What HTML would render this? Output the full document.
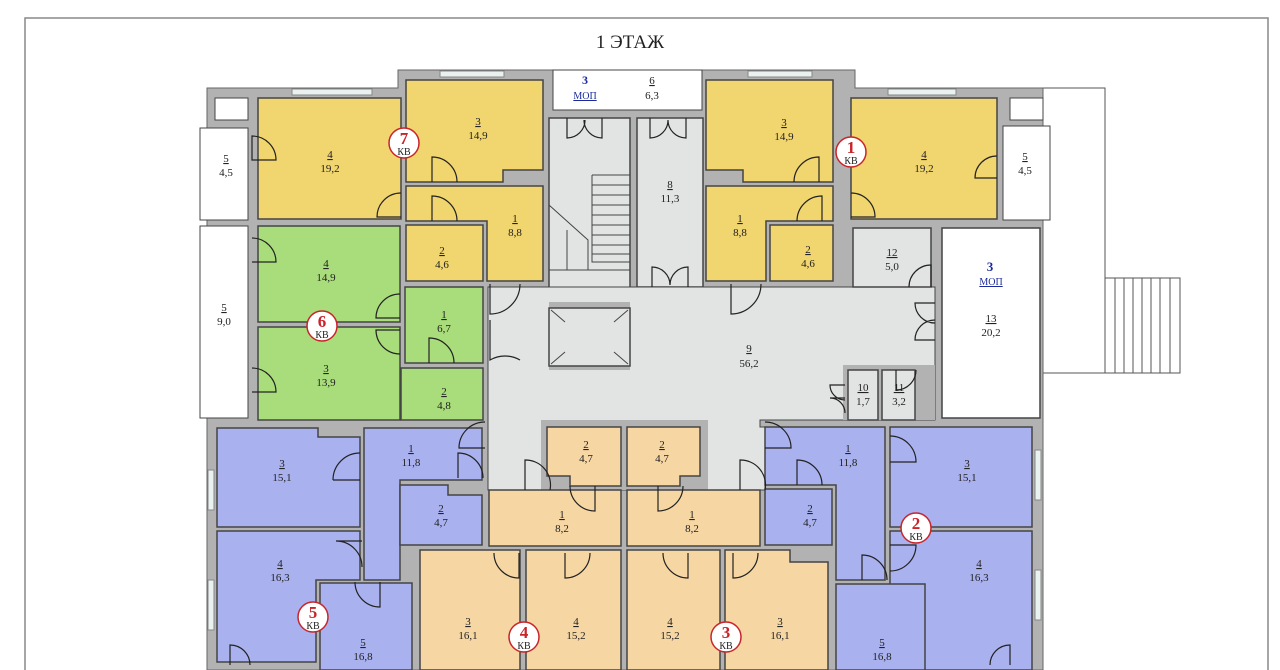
<!DOCTYPE html>
<html><head><meta charset="utf-8"><style>
body{margin:0;background:#fff;}
svg{display:block}
text{font-family:"Liberation Serif",serif;font-size:11px;fill:#222;text-anchor:middle}
.r{stroke:#444;stroke-width:1.5}
.y{fill:#f1d56e}.g{fill:#a9dc7a}.b{fill:#a9b1ee}.p{fill:#f6d7a3}.gr{fill:#e2e3e3}.w{fill:#fff}
.d{fill:none;stroke:#222;stroke-width:1.2}
.kn{font-size:17px;font-weight:bold;fill:#c8242a}
.kv{font-size:10px}
</style></head><body>
<svg width="1280" height="670" viewBox="0 0 1280 670">
<rect x="25" y="18" width="1243" height="670" fill="#fff" stroke="#888" stroke-width="1.5"/>
<text x="630" y="48" style="font-size:19px">1 ЭТАЖ</text>
<!-- outside stair -->
<rect x="1043" y="88" width="62" height="285" fill="#fff" stroke="#555"/>
<rect x="1105" y="278" width="75" height="95" fill="#fff" stroke="#555"/>
<g stroke="#555"><line x1="1115" y1="278" x2="1115" y2="373"/><line x1="1124" y1="278" x2="1124" y2="373"/><line x1="1133" y1="278" x2="1133" y2="373"/><line x1="1142" y1="278" x2="1142" y2="373"/><line x1="1151" y1="278" x2="1151" y2="373"/><line x1="1160" y1="278" x2="1160" y2="373"/><line x1="1170" y1="278" x2="1170" y2="373"/></g>
<!-- walls -->
<polygon points="207,88 398,88 398,70 855,70 855,88 1043,88 1043,670 207,670" fill="#b2b2b2" stroke="#666"/>
<rect x="215" y="98" width="33" height="22" fill="#fff" stroke="#444"/>
<rect x="1010" y="98" width="33" height="22" fill="#fff" stroke="#444"/>
<!-- balconies -->
<polygon points="200,128 248,128 248,220 200,220" fill="#fff" stroke="#444"/>
<polygon points="200,226 248,226 248,418 200,418" fill="#fff" stroke="#444"/>
<polygon points="1003,126 1050,126 1050,220 1003,220" fill="#fff" stroke="#444"/>
<!-- Apt 7 -->
<rect class="r y" x="258" y="98" width="143" height="121"/>
<polygon class="r y" points="406,80 543,80 543,170 503,170 503,182 406,182"/>
<polygon class="r y" points="406,186 543,186 543,281 487,281 487,221 406,221"/>
<polygon class="r y" points="406,225 483,225 483,281 406,281"/>
<!-- stairs / lift -->
<rect class="r gr" x="549" y="118" width="81" height="184"/>
<g stroke="#444" fill="none"><polyline points="592,175 630,175"/><polyline points="592,175 592,262 630,262"/><line x1="592" y1="185" x2="630" y2="185"/><line x1="592" y1="195" x2="630" y2="195"/><line x1="592" y1="205" x2="630" y2="205"/><line x1="592" y1="215" x2="630" y2="215"/><line x1="592" y1="225" x2="630" y2="225"/><line x1="592" y1="235" x2="630" y2="235"/><line x1="592" y1="245" x2="630" y2="245"/><line x1="592" y1="254" x2="630" y2="254"/><polyline points="549,205 588,240 588,270 567,270 567,230"/><line x1="549" y1="270" x2="630" y2="270"/></g>
<rect class="r gr" x="549" y="308" width="81" height="58"/>
<g stroke="#444"><line x1="551" y1="310" x2="565" y2="322"/><line x1="628" y1="310" x2="614" y2="322"/><line x1="551" y1="364" x2="565" y2="352"/><line x1="628" y1="364" x2="614" y2="352"/></g>
<rect class="w" x="553" y="70" width="149" height="40" stroke="#444"/>
<text x="585" y="84" style="fill:#1a2a9c;font-weight:bold;font-size:12px">3</text>
<text x="585" y="99" style="fill:#1a2a9c;font-size:10px;text-decoration:underline">МОП</text>
<text x="652" y="84" style="text-decoration:underline">6</text><text x="652" y="99">6,3</text>
<rect class="r gr" x="637" y="118" width="66" height="169"/>
<!-- hall -->
<polygon class="gr" points="488,287 935,287 935,420 760,420 760,427 765,427 765,490 760,490 488,490" stroke="#444" stroke-width="1"/>
<rect x="549" y="302" width="81" height="68" fill="#b2b2b2"/><rect class="r gr" x="549" y="308" width="81" height="58"/>
<g stroke="#444"><line x1="551" y1="310" x2="565" y2="322"/><line x1="628" y1="310" x2="614" y2="322"/><line x1="551" y1="364" x2="565" y2="352"/><line x1="628" y1="364" x2="614" y2="352"/></g>
<rect x="541" y="420" width="167" height="70" fill="#b2b2b2"/>
<!-- Apt 1 -->
<polygon class="r y" points="706,80 833,80 833,182 743,182 743,170 706,170"/>
<rect class="r y" x="851" y="98" width="146" height="121"/>
<polygon class="r y" points="706,186 833,186 833,221 766,221 766,281 706,281"/>
<rect class="r y" x="770" y="225" width="63" height="56"/>
<rect class="r gr" x="853" y="228" width="78" height="59"/>
<rect class="r w" x="942" y="228" width="98" height="190"/>
<rect x="843" y="365" width="92" height="55" fill="#b2b2b2"/>
<rect class="r gr" x="848" y="370" width="30" height="50"/>
<rect class="r gr" x="882" y="370" width="33" height="50"/>
<!-- Apt 6 -->
<rect class="r g" x="258" y="226" width="142" height="96"/>
<rect class="r g" x="258" y="327" width="142" height="93"/>
<rect class="r g" x="405" y="287" width="78" height="76"/>
<rect class="r g" x="401" y="368" width="82" height="52"/>
<!-- Apt 5 -->
<polygon class="r b" points="217,428 318,428 318,437 360,437 360,527 217,527"/>
<polygon class="r b" points="217,531 360,531 360,580 316,580 316,662 217,662"/>
<polygon class="r b" points="364,428 482,428 482,480 400,480 400,580 364,580"/>
<polygon class="r b" points="400,485 448,485 448,495 482,495 482,545 400,545"/>
<rect class="r b" x="320" y="583" width="92" height="87"/>
<!-- Apt 4 -->
<polygon class="r p" points="547,427 621,427 621,486 570,486 570,476 547,476"/>
<rect class="r p" x="489" y="490" width="132" height="56"/>
<polygon class="r p" points="420,550 520,550 520,670 420,670"/>
<rect class="r p" x="526" y="550" width="95" height="120"/>
<!-- Apt 3 -->
<polygon class="r p" points="627,427 700,427 700,476 680,476 680,486 627,486"/>
<rect class="r p" x="627" y="490" width="133" height="56"/>
<rect class="r p" x="627" y="550" width="93" height="120"/>
<polygon class="r p" points="725,550 790,550 790,562 828,562 828,670 725,670"/>
<!-- Apt 2 -->
<polygon class="r b" points="765,427 885,427 885,580 836,580 836,485 765,485"/>
<rect class="r b" x="765" y="489" width="67" height="56"/>
<rect class="r b" x="890" y="427" width="142" height="100"/>
<rect class="r b" x="890" y="531" width="142" height="139"/>
<rect class="r b" x="836" y="584" width="89" height="86"/>
<!-- windows -->
<g fill="#e9f2f0" stroke="#888"><rect x="292" y="89" width="80" height="6"/><rect x="440" y="71" width="64" height="6"/><rect x="748" y="71" width="64" height="6"/><rect x="888" y="89" width="68" height="6"/><rect x="208" y="470" width="6" height="40"/><rect x="208" y="580" width="6" height="50"/><rect x="1035" y="450" width="6" height="50"/><rect x="1035" y="570" width="6" height="50"/></g>
<!-- doors -->
<path class="d" d="M252,160 h24 a24,24 0 0 0 -24,-24 z M432,182 v-25 a25,25 0 0 1 25,25 M401,217 h-24 a24,24 0 0 1 24,-24 M432,221 v-25 a25,25 0 0 1 25,25 M819,182 v-25 a25,25 0 0 0 -25,25 M851,217 h24 a24,24 0 0 0 -24,-24 M822,221 v-25 a25,25 0 0 0 -25,25 M997,178 h-22 a22,22 0 0 1 22,-22 M252,262 h24 a24,24 0 0 0 -24,-24 M252,392 h24 a24,24 0 0 0 -24,-24 M400,318 h-24 a24,24 0 0 1 24,-24 M400,330 h-24 a24,24 0 0 0 24,24 M429,363 v-25 a25,25 0 0 1 25,25 M490,284 v30 a30,30 0 0 0 30,-30 M490,320 v40 a30,30 0 0 1 30,0 M731,284 v30 a30,30 0 0 0 30,-30 M931,287 v-22 a22,22 0 0 0 -22,22 M935,303 h-20 a20,20 0 0 0 20,20 M935,340 h-20 a20,20 0 0 1 20,-20 M845,385 h-15 a15,15 0 0 0 15,15 M845,398 h-15 a15,15 0 0 1 15,15 M896,370 v20 a20,20 0 0 0 20,-20 M333,480 h27 M333,480 a27,27 0 0 1 27,-27 M458,478 v-25 a25,25 0 0 1 25,25 M485,448 h-26 a26,26 0 0 1 26,-26 M525,490 v-30 a25,25 0 0 1 25,30 M595,486 v25 a25,25 0 0 1 -25,-25 M658,486 v25 a25,25 0 0 0 25,-25 M740,490 v-30 a25,25 0 0 1 25,30 M765,448 h26 a26,26 0 0 0 -26,-26 M797,485 v-25 a25,25 0 0 1 25,25 M890,462 h26 a26,26 0 0 0 -26,-26 M362,541 h-26 a26,26 0 0 1 26,26 M380,582 v25 a25,25 0 0 1 -25,-25 M519,553 v25 a25,25 0 0 1 -25,-25 M565,553 v25 a25,25 0 0 0 25,-25 M688,553 v25 a25,25 0 0 1 -25,-25 M733,553 v25 a25,25 0 0 0 25,-25 M862,580 v-25 a25,25 0 0 1 25,25 M890,545 h26 a26,26 0 0 1 -26,26 M230,665 v-20 a20,20 0 0 1 20,20 M1010,665 v-20 a20,20 0 0 0 -20,20 M567,118 v20 a18,18 0 0 0 18,-18 M602,118 v20 a18,18 0 0 1 -18,-18 M650,118 v20 a18,18 0 0 0 18,-18 M686,118 v20 a18,18 0 0 1 -18,-18 M652,287 v-20 a18,18 0 0 1 18,18 M688,287 v-20 a18,18 0 0 0 -18,18 M584,287"/>
<!-- labels -->
<g>
<text x="330" y="158" text-decoration="underline">4</text><text x="330" y="172">19,2</text>
<text x="478" y="125" text-decoration="underline">3</text><text x="478" y="139">14,9</text>
<text x="515" y="222" text-decoration="underline">1</text><text x="515" y="236">8,8</text>
<text x="442" y="254" text-decoration="underline">2</text><text x="442" y="268">4,6</text>
<text x="226" y="162" text-decoration="underline">5</text><text x="226" y="176">4,5</text>
<text x="224" y="311" text-decoration="underline">5</text><text x="224" y="325">9,0</text>
<text x="326" y="267" text-decoration="underline">4</text><text x="326" y="281">14,9</text>
<text x="326" y="372" text-decoration="underline">3</text><text x="326" y="386">13,9</text>
<text x="444" y="318" text-decoration="underline">1</text><text x="444" y="332">6,7</text>
<text x="444" y="395" text-decoration="underline">2</text><text x="444" y="409">4,8</text>
<text x="670" y="188" text-decoration="underline">8</text><text x="670" y="202">11,3</text>
<text x="784" y="126" text-decoration="underline">3</text><text x="784" y="140">14,9</text>
<text x="924" y="158" text-decoration="underline">4</text><text x="924" y="172">19,2</text>
<text x="1025" y="160" text-decoration="underline">5</text><text x="1025" y="174">4,5</text>
<text x="740" y="222" text-decoration="underline">1</text><text x="740" y="236">8,8</text>
<text x="808" y="253" text-decoration="underline">2</text><text x="808" y="267">4,6</text>
<text x="892" y="256" text-decoration="underline">12</text><text x="892" y="270">5,0</text>
<text x="990" y="271" style="fill:#1a2a9c;font-weight:bold;font-size:13px">3</text>
<text x="991" y="285" style="fill:#1a2a9c;font-size:10px;text-decoration:underline">МОП</text>
<text x="991" y="322" text-decoration="underline">13</text><text x="991" y="336">20,2</text>
<text x="749" y="352" text-decoration="underline">9</text><text x="749" y="367">56,2</text>
<text x="863" y="391" text-decoration="underline">10</text><text x="863" y="405">1,7</text>
<text x="899" y="391" text-decoration="underline">11</text><text x="899" y="405">3,2</text>
<text x="282" y="467" text-decoration="underline">3</text><text x="282" y="481">15,1</text>
<text x="411" y="452" text-decoration="underline">1</text><text x="411" y="466">11,8</text>
<text x="441" y="512" text-decoration="underline">2</text><text x="441" y="526">4,7</text>
<text x="280" y="567" text-decoration="underline">4</text><text x="280" y="581">16,3</text>
<text x="363" y="646" text-decoration="underline">5</text><text x="363" y="660">16,8</text>
<text x="586" y="448" text-decoration="underline">2</text><text x="586" y="462">4,7</text>
<text x="662" y="448" text-decoration="underline">2</text><text x="662" y="462">4,7</text>
<text x="562" y="518" text-decoration="underline">1</text><text x="562" y="532">8,2</text>
<text x="692" y="518" text-decoration="underline">1</text><text x="692" y="532">8,2</text>
<text x="468" y="625" text-decoration="underline">3</text><text x="468" y="639">16,1</text>
<text x="576" y="625" text-decoration="underline">4</text><text x="576" y="639">15,2</text>
<text x="670" y="625" text-decoration="underline">4</text><text x="670" y="639">15,2</text>
<text x="780" y="625" text-decoration="underline">3</text><text x="780" y="639">16,1</text>
<text x="848" y="452" text-decoration="underline">1</text><text x="848" y="466">11,8</text>
<text x="810" y="512" text-decoration="underline">2</text><text x="810" y="526">4,7</text>
<text x="967" y="467" text-decoration="underline">3</text><text x="967" y="481">15,1</text>
<text x="979" y="567" text-decoration="underline">4</text><text x="979" y="581">16,3</text>
<text x="882" y="646" text-decoration="underline">5</text><text x="882" y="660">16,8</text>
</g>
<!-- badges -->
<g fill="#fff" stroke="#c8242a" stroke-width="1.5">
<circle cx="404" cy="143" r="15"/><circle cx="851" cy="152" r="15"/><circle cx="322" cy="326" r="15"/>
<circle cx="916" cy="528" r="15"/><circle cx="313" cy="617" r="15"/><circle cx="524" cy="637" r="15"/><circle cx="726" cy="637" r="15"/>
</g>
<text class="kn" x="404" y="144">7</text><text class="kv" x="404" y="155">КВ</text>
<text class="kn" x="851" y="153">1</text><text class="kv" x="851" y="164">КВ</text>
<text class="kn" x="322" y="327">6</text><text class="kv" x="322" y="338">КВ</text>
<text class="kn" x="916" y="529">2</text><text class="kv" x="916" y="540">КВ</text>
<text class="kn" x="313" y="618">5</text><text class="kv" x="313" y="629">КВ</text>
<text class="kn" x="524" y="638">4</text><text class="kv" x="524" y="649">КВ</text>
<text class="kn" x="726" y="638">3</text><text class="kv" x="726" y="649">КВ</text>
</svg>
</body></html>
